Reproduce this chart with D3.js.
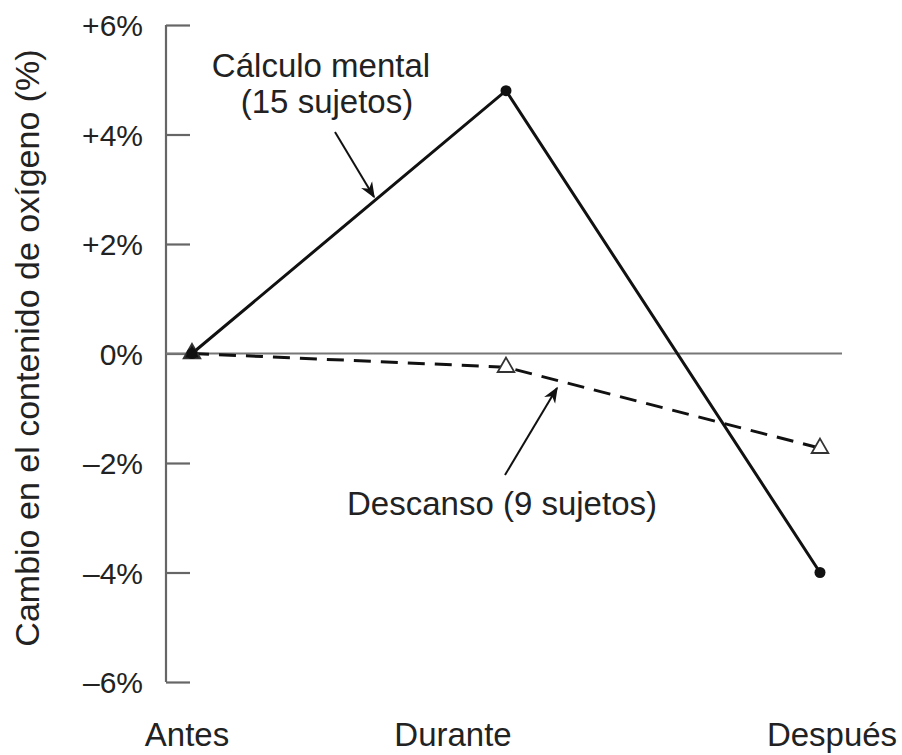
<!DOCTYPE html>
<html><head><meta charset="utf-8">
<script src="https://cdn.jsdelivr.net/npm/d3@7"></script>
<style>body{margin:0;background:#fff}svg{display:block}text{font-family:"Liberation Sans",Arial,sans-serif;fill:#222}</style>
</head><body>
<script>
const categories = ["Antes", "Durante", "Después"];
const calculoValues = [0, 4.8, -4.0];
const descansoValues = [0, -0.25, -1.73];
const yTicks = [6, 4, 2, 0, -2, -4, -6];
const yTickLabels = ["+6%", "+4%", "+2%", "0%", "–2%", "–4%", "–6%"];
const labelOffsets = [-5, -53, 12];

const W = 902, H = 755;
const svg = d3.select("body").append("svg").attr("width", W).attr("height", H);

const x = d3.scalePoint().domain(categories).range([192, 820]);
const y = d3.scaleLinear().domain([-6, 6]).range([682, 25]);
const axisX = 166;

// y axis
const yAxis = d3.axisRight(y).tickValues(yTicks).tickSize(24).tickFormat("");
const ga = svg.append("g").attr("transform", `translate(${axisX},0)`).call(yAxis);
ga.select(".domain").attr("stroke", "#666").attr("stroke-width", 2.2).attr("d", `M0,${y(6)}V${y(-6)}`);
ga.selectAll(".tick line").attr("stroke", "#666").attr("stroke-width", 2.2);

svg.append("g").selectAll("text").data(yTicks).join("text")
  .attr("x", 143).attr("y", d => y(d) + 11).attr("text-anchor", "end")
  .attr("font-size", 30).text((d, i) => yTickLabels[i]);

// zero line
svg.append("line").attr("x1", axisX).attr("x2", 842).attr("y1", y(0)).attr("y2", y(0))
  .attr("stroke", "#777").attr("stroke-width", 2.2);

// y title
svg.append("text").attr("transform", `translate(39,348) rotate(-90)`)
  .attr("text-anchor", "middle").attr("font-size", 34)
  .text("Cambio en el contenido de oxígeno (%)");

// x labels
svg.append("g").selectAll("text").data(categories).join("text")
  .attr("x", (d, i) => x(d) + labelOffsets[i]).attr("y", 746)
  .attr("text-anchor", "middle").attr("font-size", 33).text(d => d);

const line = d3.line().x((d, i) => x(categories[i])).y(d => y(d));

// descanso dashed
svg.append("path").datum(descansoValues).attr("d", line).attr("fill", "none")
  .attr("stroke", "#111").attr("stroke-width", 3).attr("stroke-dasharray", "17,10");

// calculo solid
svg.append("path").datum(calculoValues).attr("d", line).attr("fill", "none")
  .attr("stroke", "#111").attr("stroke-width", 3);

// markers
const tri = d3.symbol().type(d3.symbolTriangle).size(120);
svg.append("g").selectAll("path").data(descansoValues).join("path")
  .attr("d", tri).attr("transform", (d, i) => `translate(${x(categories[i])},${y(d)})`)
  .attr("fill", (d, i) => i === 0 ? "#111" : "#fff").attr("stroke", "#333").attr("stroke-width", 1.8);
svg.append("g").selectAll("circle").data(calculoValues).join("circle")
  .attr("cx", (d, i) => x(categories[i])).attr("cy", d => y(d)).attr("r", 5.5).attr("fill", "#111");

// arrow marker
svg.append("defs").append("marker").attr("id", "ah").attr("viewBox", "0 0 10 10")
  .attr("refX", 9).attr("refY", 5)
  .attr("markerUnits", "userSpaceOnUse").attr("orient", "auto")
  .attr("markerWidth", 16).attr("markerHeight", 16)
  .append("path").attr("d", "M0,1 L10,5 L0,9 L3,5 Z").attr("fill", "#111");

// annotations
svg.append("text").attr("x", 321).attr("y", 77).attr("text-anchor", "middle").attr("font-size", 33).text("Cálculo mental");
svg.append("text").attr("x", 327).attr("y", 113).attr("text-anchor", "middle").attr("font-size", 33).text("(15 sujetos)");
svg.append("line").attr("x1", 335).attr("y1", 132).attr("x2", 374).attr("y2", 197)
  .attr("stroke", "#111").attr("stroke-width", 2).attr("marker-end", "url(#ah)");

svg.append("text").attr("x", 502).attr("y", 515).attr("text-anchor", "middle").attr("font-size", 33).text("Descanso (9 sujetos)");
svg.append("line").attr("x1", 505).attr("y1", 475).attr("x2", 557).attr("y2", 388)
  .attr("stroke", "#111").attr("stroke-width", 2).attr("marker-end", "url(#ah)");
</script>
</body></html>
